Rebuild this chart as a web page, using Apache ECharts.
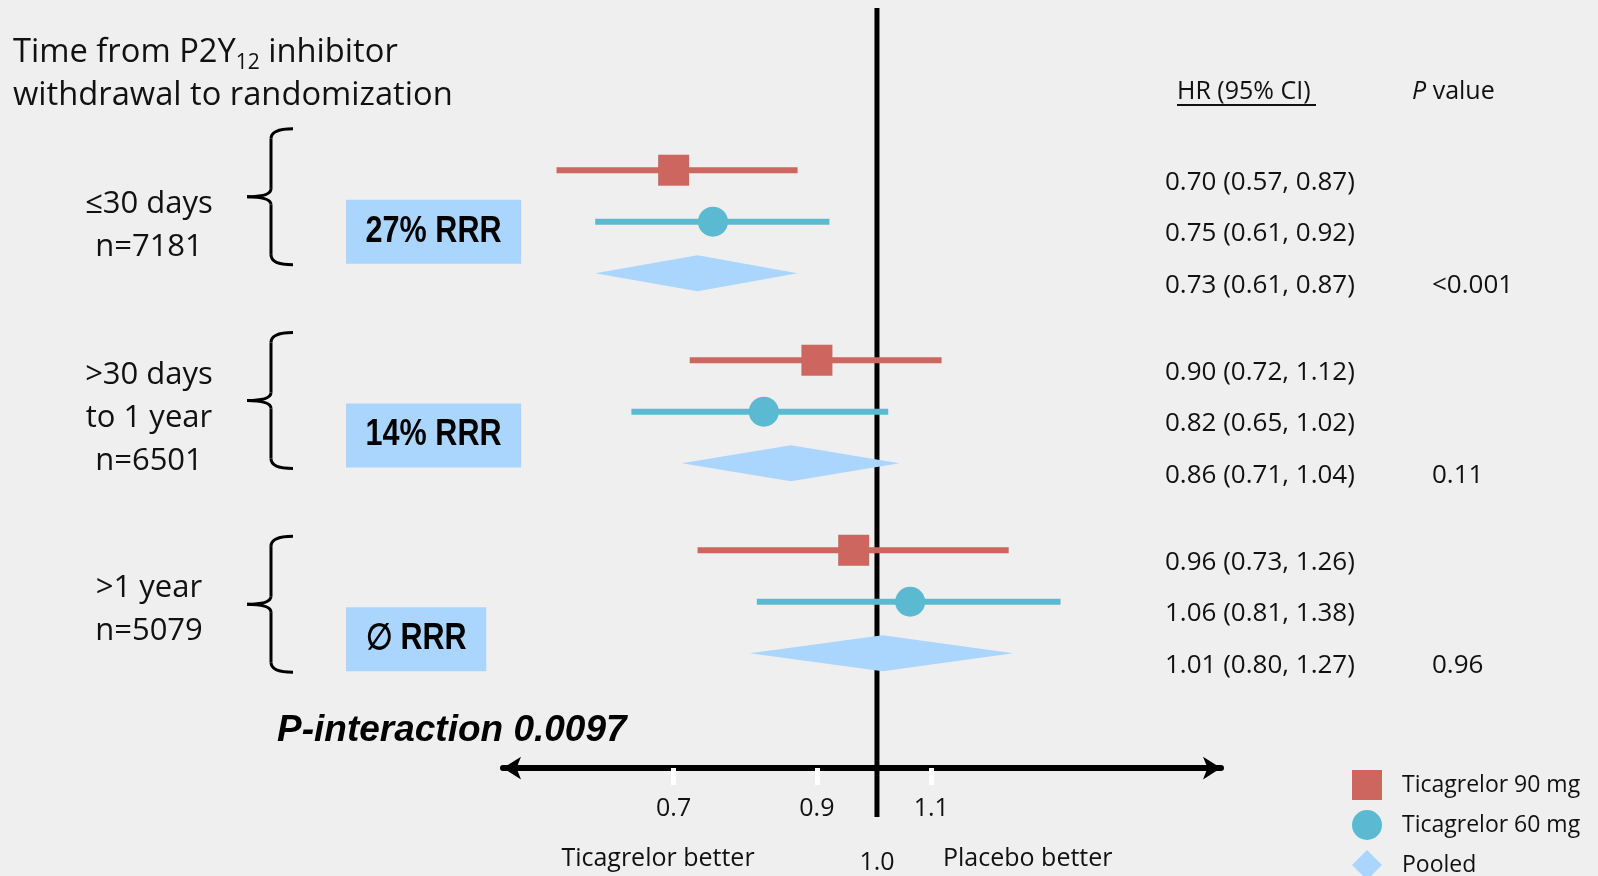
<!DOCTYPE html>
<html>
<head>
<meta charset="utf-8">
<title>P2Y12 inhibitor withdrawal – forest plot</title>
<script src="https://cdn.jsdelivr.net/npm/echarts@6/dist/echarts.min.js"></script>
<style>
  html, body { margin: 0; padding: 0; background: #efefef; }
  #chart { width: 1598px; height: 876px; }
</style>
</head>
<body>
<div id="chart"></div>
<script>
// ---- data ----
const groupLabels = ['≤30 days\nn=7181', '>30 days\nto 1 year\nn=6501', '>1 year\nn=5079'];
const rrrLabels = ['27% RRR', '14% RRR', '∅ RRR'];

const hr90 = [0.70, 0.90, 0.96];
const lo90 = [0.57, 0.72, 0.73];
const hi90 = [0.87, 1.12, 1.26];

const hr60 = [0.75, 0.82, 1.06];
const lo60 = [0.61, 0.65, 0.81];
const hi60 = [0.92, 1.02, 1.38];

const hrPooled = [0.73, 0.86, 1.01];
const loPooled = [0.61, 0.71, 0.80];
const hiPooled = [0.87, 1.04, 1.27];

const pValues = ['<0.001', '0.11', '0.96'];
const xTickValues = [0.7, 0.9, 1.1];
const refValue = 1.0;

// ---- layout helpers ----
const FONT = '"Open Sans", Lato, sans-serif';
const BOLD_FONT = '"Liberation Sans", Arial, sans-serif';
const RED = '#cd665e', TEAL = '#5bbad2', LIGHT = '#aad5fd';
const X_MIN = 0.5189, X_MAX = 1.8286;    // HR axis extent (log scale)
const Y_MIN = -0.95, Y_MAX = 14.76;      // y axis in row units; 0 sits on the HR axis
const FIRST_ROW = 11.61, GROUP_STEP = 3.69;
const HR_TEXT_X = 1165, P_TEXT_X = 1432, TEXT_DY = 12;
function rowY(g, r) { return FIRST_ROW - g * GROUP_STEP - r; }
function f2(v) { return v.toFixed(2); }
function hrText(v, lo, hi) { return f2(v) + ' (' + f2(lo) + ', ' + f2(hi) + ')'; }

function rowText(x, y, text) {
  return { type: 'text', x: x, y: y,
    style: { text: text, fill: '#111', fontSize: 26, fontFamily: FONT, align: 'left', verticalAlign: 'middle' } };
}

function armRenderer(marker) {
  return function (params, api) {
    const y = api.value(1);
    const c = api.coord([api.value(0), y]);
    const l = api.coord([api.value(2), y]);
    const h = api.coord([api.value(3), y]);
    const color = api.visual('color');
    const children = [
      { type: 'line', shape: { x1: l[0], y1: c[1], x2: h[0], y2: c[1] }, style: { stroke: color, lineWidth: 6 } }
    ];
    if (marker === 'rect') {
      children.push({ type: 'rect', shape: { x: c[0] - 15.5, y: c[1] - 15.5, width: 31, height: 31 }, style: { fill: color } });
    } else {
      children.push({ type: 'circle', shape: { cx: c[0], cy: c[1], r: 15 }, style: { fill: color } });
    }
    children.push(rowText(HR_TEXT_X, c[1] + TEXT_DY, hrText(api.value(0), api.value(2), api.value(3))));
    return { type: 'group', children: children };
  };
}

function pooledRenderer(params, api) {
  const y = api.value(1);
  const c = api.coord([api.value(0), y]);
  const l = api.coord([api.value(2), y]);
  const h = api.coord([api.value(3), y]);
  return { type: 'group', children: [
    { type: 'polygon', shape: { points: [[l[0], c[1]], [c[0], c[1] - 18], [h[0], c[1]], [c[0], c[1] + 18]] },
      style: { fill: api.visual('color') } },
    rowText(HR_TEXT_X, c[1] + TEXT_DY, hrText(api.value(0), api.value(2), api.value(3))),
    rowText(P_TEXT_X, c[1] + TEXT_DY, pValues[params.dataIndex])
  ] };
}

// subgroup names, level with each group's middle row
function labelRenderer(params, api) {
  const cy = api.coord([refValue, api.value(1)])[1];
  return { type: 'text', x: 149, y: cy + 4 + params.dataIndex * 2,
    style: { text: groupLabels[params.dataIndex], fill: '#111', fontSize: 31, lineHeight: 43,
             fontFamily: FONT, align: 'center', verticalAlign: 'middle' } };
}

// left panel: brace and RRR box for each group
function braceRenderer(params, api) {
  const x0 = params.coordSys.x;
  const cy = api.coord([0, api.value(1)])[1];
  const top = cy - 68, bot = cy + 68;
  const bx = x0 + 271, tipX = x0 + 247, endX = x0 + 293;
  const stroke = { stroke: '#000', lineWidth: 3, fill: null };
  return { type: 'group', children: [
    { type: 'bezierCurve', shape: { x1: endX, y1: top, cpx1: bx, cpy1: top, x2: bx, y2: top + 10 }, style: stroke },
    { type: 'line', shape: { x1: bx, y1: top + 10, x2: bx, y2: cy - 8 }, style: stroke },
    { type: 'bezierCurve', shape: { x1: bx, y1: cy - 8, cpx1: bx, cpy1: cy, x2: tipX, y2: cy }, style: stroke },
    { type: 'bezierCurve', shape: { x1: tipX, y1: cy, cpx1: bx, cpy1: cy, x2: bx, y2: cy + 8 }, style: stroke },
    { type: 'line', shape: { x1: bx, y1: cy + 8, x2: bx, y2: bot - 10 }, style: stroke },
    { type: 'bezierCurve', shape: { x1: bx, y1: bot - 10, cpx1: bx, cpy1: bot, x2: endX, y2: bot }, style: stroke },
    { type: 'text', x: x0 + 346, y: cy + 35, scaleX: 0.85,
      style: { text: rrrLabels[params.dataIndex], fill: '#000', fontSize: 36, fontWeight: 'bold',
               fontFamily: BOLD_FONT, backgroundColor: LIGHT, padding: [14, 23, 14, 23],
               align: 'left', verticalAlign: 'middle' } }
  ] };
}

const chart = echarts.init(document.getElementById('chart'), null, { renderer: 'canvas' });

const option = {
  backgroundColor: '#efefef',
  animation: false,
  textStyle: { fontFamily: FONT },
  grid: [
    { left: 503, width: 718, top: 8, height: 809, outerBoundsMode: 'none', containLabel: false },
    { left: 0, width: 540, top: 95, height: 611, outerBoundsMode: 'none', containLabel: false }
  ],
  xAxis: [
    {
      gridIndex: 0, type: 'log', logBase: 10, min: X_MIN, max: X_MAX,
      axisLine: { show: true, onZero: true, symbol: ['arrow', 'arrow'], symbolSize: [17, 18],
                  lineStyle: { color: '#000', width: 6 } },
      axisTick: { show: true, customValues: xTickValues, length: 17, inside: false,
                  lineStyle: { color: '#ffffff', width: 5 } },
      axisLabel: {
        show: true, customValues: xTickValues, margin: -21,
        color: '#111', fontSize: 25, fontFamily: FONT,
        formatter: function (v) { return v.toFixed(1); }
      },
      splitLine: { show: false }, minorTick: { show: false }, minorSplitLine: { show: false }
    },
    {
      // labels the no-effect line beneath the plot
      gridIndex: 0, type: 'log', logBase: 10, min: X_MIN, max: X_MAX, position: 'bottom',
      axisLine: { show: false, onZero: false }, axisTick: { show: false },
      axisLabel: {
        show: true, customValues: [refValue], margin: 33,
        color: '#111', fontSize: 25, fontFamily: FONT,
        formatter: function (v) { return v.toFixed(1); }
      },
      splitLine: { show: false }, minorTick: { show: false }, minorSplitLine: { show: false }
    },
    { gridIndex: 1, type: 'value', min: 0, max: 1, show: false }
  ],
  yAxis: [
    { gridIndex: 0, type: 'value', min: Y_MIN, max: Y_MAX, show: false, splitLine: { show: false } },
    { gridIndex: 1, type: 'category', data: groupLabels, inverse: true, show: false }
  ],
  legend: {
    orient: 'vertical', left: 1347, top: 765, height: 150, itemWidth: 30, itemHeight: 30, itemGap: 10,
    selectedMode: false,
    textStyle: { fontSize: 23, fontFamily: FONT, color: '#111', padding: [0, 0, 0, 15] },
    data: [
      { name: 'Ticagrelor 90 mg', icon: 'rect' },
      { name: 'Ticagrelor 60 mg', icon: 'circle' },
      { name: 'Pooled', icon: 'diamond' }
    ]
  },
  series: [
    {
      name: 'reference', type: 'line', xAxisIndex: 0, yAxisIndex: 0, z: 2, silent: true,
      symbol: 'none', lineStyle: { color: '#000', width: 5 },
      data: [[refValue, Y_MIN], [refValue, Y_MAX]]
    },
    {
      name: 'Ticagrelor 90 mg', type: 'custom', xAxisIndex: 0, yAxisIndex: 0, z: 3,
      itemStyle: { color: RED }, renderItem: armRenderer('rect'),
      data: hr90.map(function (v, g) { return [v, rowY(g, 0), lo90[g], hi90[g]]; })
    },
    {
      name: 'Ticagrelor 60 mg', type: 'custom', xAxisIndex: 0, yAxisIndex: 0, z: 3,
      itemStyle: { color: TEAL }, renderItem: armRenderer('circle'),
      data: hr60.map(function (v, g) { return [v, rowY(g, 1), lo60[g], hi60[g]]; })
    },
    {
      name: 'Pooled', type: 'custom', xAxisIndex: 0, yAxisIndex: 0, z: 4,
      itemStyle: { color: LIGHT }, renderItem: pooledRenderer,
      data: hrPooled.map(function (v, g) { return [v, rowY(g, 2), loPooled[g], hiPooled[g]]; })
    },
    {
      name: 'subgroups', type: 'custom', xAxisIndex: 0, yAxisIndex: 0, z: 3, silent: true,
      renderItem: labelRenderer,
      data: groupLabels.map(function (g, i) { return [refValue, rowY(i, 1)]; })
    },
    {
      name: 'braces', type: 'custom', xAxisIndex: 2, yAxisIndex: 1, z: 3, silent: true,
      renderItem: braceRenderer,
      data: groupLabels.map(function (g, i) { return [0, i]; })
    }
  ],
  graphic: [
    { type: 'text', left: 13, top: 36,
      style: {
        text: '{a|Time from P2Y}{s|12}{a| inhibitor}\n{a|withdrawal to randomization}',
        rich: {
          a: { fontSize: 32.7, lineHeight: 43, fontFamily: FONT, fill: '#111', color: '#111' },
          s: { fontSize: 21, lineHeight: 43, fontFamily: FONT, fill: '#111', color: '#111', verticalAlign: 'bottom' }
        }
      } },
    { type: 'text', x: 277, y: 731,
      style: { text: 'P-interaction 0.0097', fill: '#000', fontSize: 37, fontWeight: 'bold', fontStyle: 'italic',
               fontFamily: BOLD_FONT, align: 'left', verticalAlign: 'middle' } },
    { type: 'text', x: 658, y: 859,
      style: { text: 'Ticagrelor better', fill: '#111', fontSize: 25, fontFamily: FONT, align: 'center', verticalAlign: 'middle' } },
    { type: 'text', x: 943, y: 859,
      style: { text: 'Placebo better', fill: '#111', fontSize: 25, fontFamily: FONT, align: 'left', verticalAlign: 'middle' } },
    { type: 'text', x: 1177, y: 92,
      style: { text: 'HR (95% CI)', fill: '#111', fontSize: 25, fontFamily: FONT, align: 'left', verticalAlign: 'middle' } },
    { type: 'line', shape: { x1: 1177, y1: 105, x2: 1316, y2: 105 }, style: { stroke: '#111', lineWidth: 2 } },
    { type: 'text', x: 1412, y: 92,
      style: { text: '{i|P} value', fill: '#111', fontSize: 25, fontFamily: FONT, align: 'left', verticalAlign: 'middle',
               rich: { i: { fontStyle: 'italic', fontSize: 25, fontFamily: FONT, fill: '#111' } } } }
  ]
};

chart.setOption(option);
</script>
</body>
</html>
